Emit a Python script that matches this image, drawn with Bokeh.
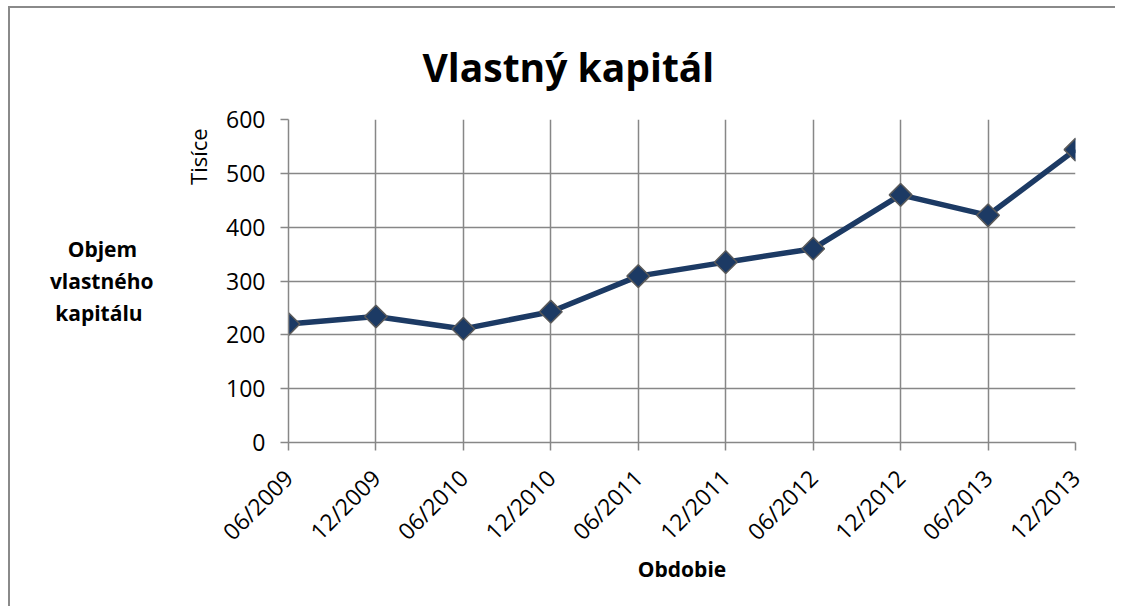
from math import pi
from bokeh.plotting import figure
from bokeh.models import Range1d, FixedTicker, Title, LinearAxis
from bokeh.embed import file_html
from bokeh.resources import INLINE

# ---- data ----
categories = ["06/2009", "12/2009", "06/2010", "12/2010", "06/2011",
              "12/2011", "06/2012", "12/2012", "06/2013", "12/2013"]
equity = [220, 234, 211, 243, 309, 335, 360, 460, 422, 544]
y_ticks = [0, 100, 200, 300, 400, 500, 600]

title_text = "Vlastný kapitál"
y_unit_label = "Tisíce"
y_title_lines = ["Objem", "vlastného", "kapitálu"]
x_title = "Obdobie"

FONT = "Open Sans"
NAVY = "#1c3a64"
GRID = "#878787"
NBSP = "\u00a0"

x_idx = list(range(len(categories)))

W, H = 1107, 600
p = figure(width=W, height=H, output_backend="svg", toolbar_location=None,
           x_range=Range1d(0, len(categories) - 1),
           y_range=Range1d(y_ticks[0], y_ticks[-1]),
           min_border_left=278, min_border_right=42,
           min_border_top=111, min_border_bottom=166)
p.outline_line_color = None
p.background_fill_color = "white"
p.border_fill_color = "white"
p.styles = {"border-top": "2px solid #8a8a8a", "border-left": "2px solid #8a8a8a",
            "margin-left": "8px", "margin-top": "6px"}

# axes
p.xaxis.ticker = FixedTicker(ticks=x_idx)
p.xaxis.major_label_overrides = {i: c for i, c in enumerate(categories)}
p.xaxis.major_label_orientation = pi / 4
p.yaxis.ticker = FixedTicker(ticks=y_ticks)
for ax in (p.xaxis, p.yaxis):
    ax.axis_line_color = GRID
    ax.axis_line_width = 1.5
    ax.major_tick_line_color = GRID
    ax.major_tick_line_width = 1.5
    ax.major_tick_out = 8
    ax.major_tick_in = 0
    ax.minor_tick_line_color = None
    ax.major_label_text_font = FONT
    ax.major_label_text_font_size = "23px"
    ax.major_label_text_color = "black"
p.yaxis.major_label_standoff = 15
p.xaxis.major_label_standoff = 23

p.xaxis.axis_label = x_title
p.xaxis.axis_label_text_font = FONT
p.xaxis.axis_label_text_font_style = "bold"
p.xaxis.axis_label_text_font_size = "21px"
p.xaxis.axis_label_text_color = "black"
p.xaxis.axis_label_standoff = -6

# unit label sits near the top of the value axis (trailing no-break spaces push it down)
p.yaxis.axis_label = y_unit_label + NBSP * 13
p.yaxis.axis_label_text_font = FONT
p.yaxis.axis_label_text_font_style = "normal"
p.yaxis.axis_label_text_font_size = "22px"
p.yaxis.axis_label_text_color = "black"
p.yaxis.axis_label_standoff = 10
p.yaxis.axis_label_align = "end"

# outer axis that only carries the horizontal three-line title (lines visually centred)
pads = [3, 0, 2]
outer_label = "\n".join(t + NBSP * n for t, n in zip(y_title_lines, pads))
outer = LinearAxis(axis_label=outer_label, ticker=FixedTicker(ticks=[]),
                   axis_line_color=None, major_tick_line_color=None,
                   minor_tick_line_color=None, major_label_text_font_size="0px")
outer.axis_label_orientation = "horizontal"
outer.axis_label_text_font = FONT
outer.axis_label_text_font_style = "bold"
outer.axis_label_text_font_size = "21px"
outer.axis_label_text_color = "black"
outer.axis_label_text_line_height = 1.15
outer.axis_label_standoff = 27
p.add_layout(outer, "left")

for g in (p.xgrid, p.ygrid):
    g.grid_line_color = GRID
    g.grid_line_width = 1.5
    g.grid_line_alpha = 1.0

# data
p.line(x_idx, equity, line_color=NAVY, line_width=5.5)
p.scatter(x_idx, equity, marker="square", angle=pi / 4, size=16,
          fill_color=NAVY, line_color="#5a5a5a", line_width=1.5)

# title
p.add_layout(Title(text=title_text, align="left", offset=134,
                   text_font=FONT, text_font_style="bold", text_font_size="39px",
                   text_color="black", standoff=53), "above")

open("out.html", "w").write(file_html(p, INLINE))
